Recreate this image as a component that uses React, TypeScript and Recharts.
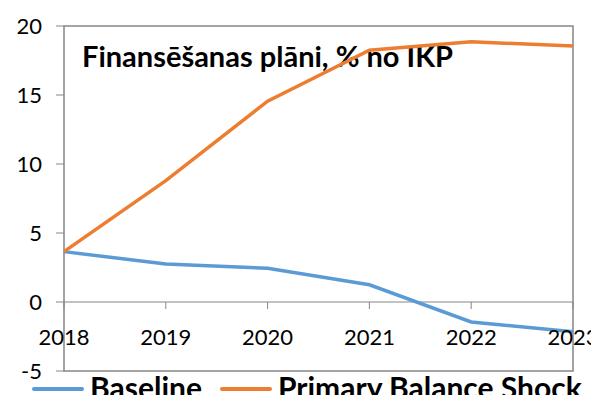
import { LineChart, Line, XAxis, YAxis, ReferenceArea, ReferenceLine, Legend, Customized } from 'recharts';

const YEARS = ['2018', '2019', '2020', '2021', '2022', '2023'];
const BASELINE = [3.65, 2.75, 2.45, 1.25, -1.45, -2.15];
const PRIMARY_SHOCK = [3.65, 8.8, 14.55, 18.25, 18.85, 18.55];
const Y_TICKS = [-5, 0, 5, 10, 15, 20];
const TITLE = 'Finansēšanas plāni, % no IKP';

const COLORS = {
  baseline: '#5B9BD5',
  shock: '#ED7D31',
  axis: '#868686',
};

const FONT = 'Lato, "Open Sans", sans-serif';

const W = 599;
const H = 403;
const PLOT_TOP = 26;
const PLOT_BOTTOM = 371;
const Y_MIN = -5;
const Y_MAX = 20;

const data = YEARS.map((year, i) => ({
  year,
  baseline: BASELINE[i],
  shock: PRIMARY_SHOCK[i],
}));

// distance from the bottom of the plot to the zero line
const zeroOffset = ((PLOT_BOTTOM - PLOT_TOP) * (0 - Y_MIN)) / (Y_MAX - Y_MIN);

function YearTick(props: any) {
  const { x, payload } = props;
  const zeroY = PLOT_BOTTOM - zeroOffset;
  return (
    <g>
      <line x1={x} x2={x} y1={zeroY} y2={zeroY + 7} stroke={COLORS.axis} strokeWidth={1} />
      <text x={x} y={zeroY + 43} textAnchor="middle" fontFamily={FONT} fontSize={22} fill="#000">
        {payload.value}
      </text>
    </g>
  );
}

function Title() {
  return (
    <text x={82} y={67} fontFamily={FONT} fontSize={29} fontWeight={700} fill="#000">
      {TITLE}
    </text>
  );
}

function LegendContent() {
  const items = [
    { label: 'Baseline', color: COLORS.baseline },
    { label: 'Primary Balance Shock', color: COLORS.shock },
  ];
  return (
    <div style={{ display: 'flex', alignItems: 'center', height: 28, paddingLeft: 32 }}>
      {items.map((it) => (
        <div key={it.label} style={{ display: 'flex', alignItems: 'center', marginRight: 18 }}>
          <span
            style={{
              display: 'inline-block',
              width: 52,
              height: 4,
              marginTop: 4,
              background: it.color,
              borderRadius: 2,
            }}
          />
          <span
            style={{
              marginLeft: 6,
              fontFamily: FONT,
              fontSize: 30,
              fontWeight: 700,
              color: '#000',
              lineHeight: '28px',
              whiteSpace: 'nowrap',
            }}
          >
            {it.label}
          </span>
        </div>
      ))}
    </div>
  );
}

export default function App() {
  return (
    <div style={{ margin: -8, width: W, height: H, background: '#fff' }}>
      <LineChart width={W} height={H} data={data} margin={{ top: PLOT_TOP, right: W - 573, bottom: 0, left: 0 }}>
        <XAxis
          dataKey="year"
          axisLine={false}
          tickLine={false}
          tick={<YearTick />}
          interval={0}
          height={2}
        />
        <YAxis
          domain={[Y_MIN, Y_MAX]}
          ticks={Y_TICKS}
          width={64}
          tickSize={8}
          tickMargin={14}
          axisLine={false}
          tickLine={{ stroke: COLORS.axis }}
          tick={{ fontFamily: FONT, fontSize: 22, fill: '#000' }}
          allowDataOverflow
        />
        <ReferenceArea x1="2018" x2="2023" y1={Y_MIN} y2={Y_MAX} fill="none" stroke={COLORS.axis} strokeWidth={1.5} />
        <ReferenceLine y={0} stroke={COLORS.axis} strokeWidth={1.2} />
        <Line
          dataKey="baseline"
          name="Baseline"
          stroke={COLORS.baseline}
          strokeWidth={3.5}
          dot={false}
          isAnimationActive={false}
        />
        <Line
          dataKey="shock"
          name="Primary Balance Shock"
          stroke={COLORS.shock}
          strokeWidth={3.5}
          dot={false}
          isAnimationActive={false}
        />
        <Customized component={Title} />
        <Legend verticalAlign="bottom" height={30} content={<LegendContent />} />
      </LineChart>
    </div>
  );
}
